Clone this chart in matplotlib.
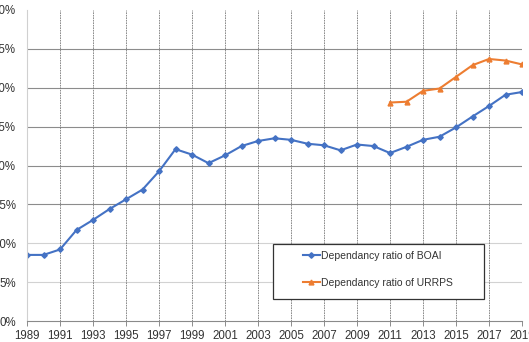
import numpy as np
import matplotlib
matplotlib.use("Agg")
import matplotlib.pyplot as plt
from matplotlib.patches import Rectangle

plt.rcParams['font.family'] = ['Liberation Sans', 'DejaVu Sans']

years = list(range(1989, 2020))
boai = [8.5, 8.5, 9.2, 11.7, 13.0, 14.4, 15.65, 16.9, 19.25, 22.1,
        21.4, 20.3, 21.3, 22.5, 23.15, 23.5, 23.3, 22.8, 22.6, 21.95,
        22.7, 22.5, 21.6, 22.4, 23.3, 23.7, 24.9, 26.3, 27.65, 29.1, 29.45]
urrps_years = list(range(2011, 2020))
urrps = [28.1, 28.2, 29.6, 29.9, 31.4, 32.9, 33.7, 33.5, 33.0]

labels = ["Dependancy ratio of BOAI", "Dependancy ratio of URRPS"]
blue = "#4472C4"
orange = "#ED7D31"

fig = plt.figure(figsize=(5.29, 3.42), dpi=100)
ax = fig.add_axes([27 / 529, 21 / 342, 495 / 529, 311 / 342])

ax.plot(years, boai, color=blue, lw=1.5, marker="D", ms=2.8, label=labels[0])
ax.plot(urrps_years, urrps, color=orange, lw=1.5, marker="^", ms=3.5, label=labels[1])

ax.set_xlim(1989, 2019)
ax.set_ylim(0, 40)
ax.set_xticks(range(1989, 2020, 2))
ax.set_yticks(range(0, 45, 5))
ax.set_yticklabels([f"{v}%" for v in range(0, 45, 5)])

# grid: horizontal solid, vertical fine dashes at odd years
for v in range(5, 40, 5):
    c = "#d2d2d2" if v <= 10 else "#8c8c8c"
    ax.axhline(v, color=c, lw=0.8, zorder=0)
for yr in range(1991, 2020, 2):
    ax.axvline(yr, color="#7a7a7a", lw=0.6, ls=(0, (2, 1)), zorder=0)

for s in ["top", "right"]:
    ax.spines[s].set_visible(False)
ax.spines["left"].set_color("#d0d0d0")
ax.spines["bottom"].set_color("#8a8a8a")
ax.spines["left"].set_linewidth(0.8)
ax.spines["bottom"].set_linewidth(0.8)

ax.tick_params(axis="x", length=3.5, width=0.6, color="#7a7a7a", pad=3,
               labelsize=8.3, labelcolor="#333333")
ax.tick_params(axis="y", length=0, pad=8, labelsize=8.3, labelcolor="#333333")

# legend box
ax.add_patch(Rectangle((0.497, 0.0707), 0.426, 0.177, transform=ax.transAxes,
                       facecolor="white", edgecolor="#333333", lw=0.9, zorder=3))
leg = ax.legend(loc="upper left", bbox_to_anchor=(0.5576, 0.225), frameon=False,
                fontsize=7.5, borderpad=0, handlelength=1.6, handletextpad=0.1,
                labelspacing=1.6, borderaxespad=0)
leg.set_zorder(4)
for t in leg.get_texts():
    t.set_color("#333333")

fig.savefig("out.png", dpi=100)
